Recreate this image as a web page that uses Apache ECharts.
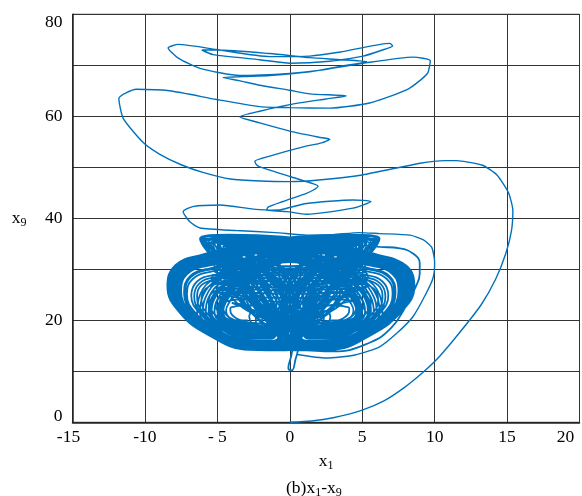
<!DOCTYPE html>
<html><head><meta charset="utf-8">
<script src="https://cdn.jsdelivr.net/npm/echarts@6/dist/echarts.min.js"></script>
<style>html,body{margin:0;padding:0;background:#fff}#c{width:582px;height:496px}</style>
</head><body><div id="c"></div>
<script>
// ---- axis ticks ----
const xTicks = [-15, -10, -5, 0, 5, 10, 15, 20];
const yTicks = [0, 20, 40, 60, 80];

// ---- transient trajectory (x1, x9) ----
const transient = [
 0,0, 1.5,0.25, 3,0.9, 5,2.4, 6.5,4.2, 7.9,6.8, 9.2,9.8, 10.3,12.8, 11.7,17.5, 13.2,23, 14.2,28, 14.9,33,
 15.3,37.5, 15.4,41.5, 15.1,45, 14.3,48.5, 13.3,50.4, 11.5,51.3, 10.7,51.3, 9,50.8, 5,48.5, 2,47.5, 0,47.2,
 -2,47.3, -4.1,47.7, -6,49, -7.5,50.5, -9,52.6, -10.1,54.8, -11.5,59.6, -11.8,63.5, -10.6,65.3, -8.3,65.0,
 -5.06,63.3, -2.07,61.9, 0,61.7, 2.76,61.6, 5.5,62.6, 8.2,65.4, 9.5,68.4, 9.7,70.9, 8.5,71.6, 5.06,70.4,
 2,69.0, 0,68.4, -3.45,68.0, -6.2,69.4, -7.7,71.4, -8.4,73.4, -7.7,74.1, -5.06,73.1, -1.38,71.7, 1.38,71.8,
 3.5,72.6, 6.9,74.3, 7.1,73.8, 6.4,73.0, 5.06,71.8, 2.76,70.8, 0,70.4, -2.07,71.1, -5.3,72.1, -6.07,73.0,
 -5.0,73.0, -1.38,72.3, 1.38,71.5, 3.5,71.1, 5.3,70.7, 3.5,69.8, 1.38,68.7, -1.38,68.0, -3.2,67.8, -4.6,67.6,
 -3.5,67.0, -2.07,66.1, 0,65.1, 1.38,64.4, 3.9,64.0, 2.5,63.4, 0,62.3, -2.07,61.0, -3.45,59.9, -2.07,58.7,
 0,57.1, 2.0,55.9, 2.76,55.5, 2.2,54.8, 0.92,54.0, -1.38,52.2, -2.41,51.2, -2.3,50.5, -2.07,50.1, 0,48.2,
 1.6,46.8, 1.95,46.3, 1.6,45.5, 1.15,44.9, -0.46,43.3, -1.5,42.2, -1.6,41.6, -0.6,41.7, 1.15,42.9, 4.37,43.6,
 5.6,43.3, 4.37,42.0, 1.15,40.8, -0.2,41.3, -2.5,41.8, -4.8,42.6, -6.7,42.3, -7.36,41.3, -6.9,39.3, -6.2,38.1,
 -3.7,37.6, -1,37.2, 1.2,36.7, 3,36.8, 4.8,37.2, 6.2,37.0, 8.3,36.7, 9.2,35.8, 9.8,34.3, 10.0,31.4, 9.9,28.4,
 9.4,25.2, 8.5,20.7, 7.4,17.5, 6.2,14.8, 4.5,13.2, 2.5,12.6, 0.5,13.3
];

// ---- attractor: loops around the left eye ----
const leftSmall = [
 -2.9,20.0, -3.3,20.0, -3.7,20.4, -4.0,21.1, -4.1,21.8, -4.1,22.4, -3.8,22.7, -3.3,22.9, -2.9,22.7, -2.7,21.8, -2.8,20.7,
 -2.6,19.3, -3.25,19.35, -3.9,20.05, -4.4,21.1, -4.6,22.4, -4.5,23.4, -4.05,23.9, -3.3,24.1, -2.55,23.75, -2.25,22.25, -2.35,20.5,
 -2.3,18.7, -3.2,18.7, -4.1,19.7, -4.8,21.2, -5.1,22.9, -4.9,24.3, -4.3,25.0, -3.3,25.4, -2.2,24.9, -1.8,22.75, -1.9,20.3,
 -2.0,18.0, -3.1,18.0, -4.3,19.3, -5.2,21.2, -5.6,23.5, -5.4,25.3, -4.6,26.2, -3.2,26.6, -1.9,26.0, -1.3,23.25, -1.5,20.1,
 -1.7,17.3, -3.1,17.4, -4.6,18.9, -5.7,21.3, -6.1,24.0, -5.8,26.2, -4.8,27.3, -3.2,27.9, -1.5,27.05, -0.9,23.75, -1.1,19.9,
 -1.5,16.8, -3.0,16.9, -4.7,18.6, -5.9,21.3, -6.4,24.4, -6.1,26.9, -5.0,28.1, -3.15,28.75, -1.3,27.8, -0.55,24.1, -0.8,19.8,
 -1.4,16.6, -3.0,16.7, -4.8,18.5, -6.05,21.3, -6.6,24.6, -6.25,27.2, -5.1,28.5, -3.15,29.1, -1.2,28.2, -0.4,24.25, -0.7,19.7,
 -1.3,16.4, -3.0,16.4, -4.85,18.4, -6.2,21.35, -6.8,24.8, -6.4,27.6, -5.2,28.9, -3.1,29.6, -1.05,28.6, -0.2,24.45, -0.5,19.6,
 -1.1,16.0, -2.95,16.05, -5.0,18.15, -6.5,21.4, -7.1,25.1, -6.7,28.1, -5.35,29.6, -3.1,30.4, -0.85,29.25, 0.05,24.75, -0.25,19.5,
 -1.0,15.8, -2.95,15.85, -5.05,18.05, -6.6,21.4, -7.2,25.3, -6.85,28.4, -5.45,30.0, -3.1,30.75, -0.75,29.6, 0.2,24.9, -0.1,19.45,
 -0.9,15.6, -2.9,15.7, -5.1,18.0, -6.7,21.4, -7.3,25.4, -6.9,28.6, -5.5,30.2, -3.1,31.0, -0.7,29.8, 0.3,25.0, -0.05,19.4,
 -0.8,15.4, -2.9,15.5, -5.2,17.8, -6.8,21.4, -7.5,25.6, -7.1,29.0, -5.6,30.7, -3.05,31.5, -0.55,30.25, 0.45,25.2, 0.1,19.3,
 -0.75,15.25, -2.9,15.3, -5.2,17.75, -6.95,21.45, -7.6,25.75, -7.2,29.2, -5.65,30.9, -3.05,31.75, -0.5,30.45, 0.55,25.3, 0.2,19.3
];
const leftFan = [
 -1.2,18.8, -3.4,19.6, -4.4,20.4, -4.6,21.8, -4.4,23.6, -3.8,26.0, -2.5,29.0, -0.6,31.4, 1.0,32.7, 2.0,32.4, 1.6,30.0, 1.2,28.0, 0.0,22.0, -0.6,19.6,
 -1.4,18.2, -3.4,19.1, -4.6,20.0, -5.0,21.8, -4.8,24.0, -4.1,26.6, -2.7,29.5, -0.5,32.4, 2.2,34.2, 4.0,34.0, 3.6,31.5, 2.8,28.0, 1.0,22.0, -0.5,19.2,
 -1.6,17.6, -3.4,18.6, -4.9,19.6, -5.4,21.7, -5.2,24.2, -4.4,27.0, -2.9,29.8, -0.6,32.2, 1.8,33.6, 3.0,33.3, 2.5,30.8, 1.8,28.0, 0.5,22.0, -0.6,18.8,
 -1.3,18.5, -3.4,19.3, -4.5,20.2, -4.8,21.8, -4.6,23.8, -3.9,26.3, -2.4,29.4, 0.0,32.6, 3.0,35.2, 5.2,35.0, 4.7,32.4, 3.8,28.0, 2.0,22.0, -0.3,19.0,
 -1.8,17.1, -3.4,18.2, -5.1,19.3, -5.8,21.6, -5.6,24.5, -4.7,27.5, -3.0,30.2, -1.0,32.0, 0.6,32.6, 1.5,32.2, 1.1,30.0, 0.6,28.0, -0.5,22.0, -1.0,18.4,
 -2.0,16.7, -3.4,17.7, -5.4,19.0, -6.2,21.5, -6.0,24.8, -5.0,28.0, -3.2,30.8, -0.8,33.0, 2.8,34.6, 4.6,34.5, 4.1,32.0, 3.4,28.0, 1.6,22.0, -0.2,18.0,
 -1.1,19.0, -3.4,19.8, -4.2,20.6, -4.4,21.9, -4.2,23.4, -3.6,25.8, -2.3,28.8, -0.3,31.6, 2.0,33.6, 3.5,33.5, 3.0,31.0, 2.0,28.0, 0.8,22.0, -0.4,19.8,
 -1.7,17.4, -3.4,18.4, -5.0,19.5, -5.6,21.6, -5.4,24.4, -4.5,27.2, -2.8,30.2, 0.0,33.4, 3.5,35.8, 5.8,35.7, 5.3,33.2, 4.4,28.0, 2.6,22.0, 0.0,18.6,
 -1.5,17.9, -3.4,18.9, -4.8,19.8, -5.2,21.7, -5.0,24.1, -4.2,26.8, -2.8,29.6, -0.8,31.9, 1.3,33.1, 2.5,32.9, 2.0,30.5, 1.0,28.0, -0.2,22.0, -0.8,19.0,
 -1.9,16.9, -3.4,17.9, -5.3,19.1, -6.0,21.5, -5.8,24.6, -4.9,27.8, -3.1,30.6, -0.6,33.2, 2.8,35.3, 5.0,35.3, 4.5,32.6, 2.6,28.0, 1.2,22.0, -0.3,18.2,
 -1.3,18.4, -3.4,19.2, -4.6,20.1, -4.9,21.8, -4.7,23.9, -4.0,26.5, -2.5,29.5, 0.2,32.9, 3.6,35.9, 6.0,36.1, 5.5,33.4, 4.8,28.0, 3.0,22.0, 0.0,19.0,
 -2.1,16.5, -3.4,17.4, -5.5,18.8, -6.4,21.4, -6.2,25.0, -5.2,28.3, -3.4,31.0, -1.0,33.0, 1.8,34.0, 3.2,33.7, 2.8,31.2, 2.4,28.0, 1.4,22.0, -0.4,17.8,
 -1.6,17.5, -3.4,18.5, -4.95,19.55, -5.5,21.65, -5.3,24.3, -4.45,27.1, -2.9,30.0, -0.4,32.7, 2.4,34.4, 4.3,34.3, 3.8,31.8, 3.0,28.0, 2.2,22.0, -0.2,18.7,
 -1.25,18.6, -3.4,19.4, -4.5,20.3, -4.7,21.8, -4.5,23.7, -3.85,26.2, -2.6,29.0, -0.9,31.4, 0.4,32.3, 1.0,32.0, 0.7,30.0, 0.3,28.0, -0.8,22.0, -0.9,19.4
];
const leftBigA = [
 -0.7,15.1, -2.9,15.2, -5.25,17.65, -7.0,21.45, -7.7,25.85, -7.3,29.4, -5.7,31.3, -3.0,32.8, 0,33.6, 1.8,33.6, 2.6,32.8, 2.3,30.5, 1.5,26, 0.8,21, 0.1,17,
 -0.6,14.9, -2.85,15.0, -5.3,17.55, -7.1,21.45, -7.9,26.0, -7.4,29.65, -5.75,31.6, -3.0,33.2, 0.3,34.1, 2.6,34.3, 3.6,33.6, 3.3,31.2, 2.3,27, 1.2,22, 0.2,17,
 -0.5,14.7, -2.85,14.8, -5.35,17.4, -7.25,21.5, -8.0,26.2, -7.55,29.9, -5.85,31.9, -3.0,33.6, 0.5,34.7, 3.2,35.0, 4.6,34.4, 4.2,31.8, 3.0,27.5, 1.6,22.5, 0.3,16.8,
 -0.4,14.5, -2.8,14.6, -5.45,17.3, -7.4,21.5, -8.15,26.35, -7.7,30.2, -5.9,32.2, -3.0,34.0, 0.5,35.2, 3.6,35.6, 5.3,35.0, 4.9,32.4, 3.5,28, 1.9,22.8, 0.4,16.6
];
const leftBigB = [
 -0.3,14.3, -2.8,14.4, -5.5,17.2, -7.5,21.5, -8.3,26.5, -7.8,30.5, -6.0,32.5, -3.0,34.4, 0.5,35.8, 4.0,36.2, 5.9,35.5, 5.4,32.8, 3.8,28.2, 2.1,23, 0.5,16.5,
 -0.2,14.1, -2.8,14.2, -5.6,17.1, -7.6,21.5, -8.45,26.7, -7.9,30.8, -6.1,32.85, -3.0,34.9, 0.5,36.4, 4.2,36.8, 6.2,36.0, 5.6,33.2, 4.0,28.5, 2.2,23.2, 0.5,16.3,
 -0.35,14.4, -2.8,14.5, -5.5,17.25, -7.45,21.5, -8.2,26.4, -7.75,30.3, -5.95,32.3, -3.0,34.0, 0.2,34.9, 2.8,35.0, 4.0,34.2, 3.6,31.5, 2.5,27, 1.4,22.2, 0.3,16.9,
 -0.55,14.8, -2.85,14.9, -5.3,17.5, -7.2,21.5, -7.95,26.1, -7.5,29.8, -5.8,31.8, -3.0,33.8, 0.5,35.5, 3.8,36.0, 5.6,35.4, 5.1,32.6, 3.6,28.1, 2.0,22.9, 0.4,16.6
];
const leftBigC = [
 -0.73,15.24, -2.88,15.32, -5.21,17.73, -6.93,21.43, -7.61,25.73, -7.18,29.17, -5.64,30.89, -3,31.2, -1,32.3, 0.3,32.6, 1.5,32.1, 1.1,30.2, 1.0,28.5, 0.5,23, 0.3,16.8,
 -0.7,15.17, -2.88,15.26, -5.23,17.69, -6.97,21.44, -7.66,25.79, -7.23,29.27, -5.66,31.0, -3,33.6, 0.5,34.9, 3.0,35.3, 4.8,34.7, 4.3,32.4, 2.6,28.5, 1.0,23, 0.4,16.8,
 -0.64,15.04, -2.87,15.13, -5.27,17.62, -7.05,21.45, -7.76,25.9, -7.32,29.46, -5.71,31.24, -3,32.2, -0.3,33.5, 1.6,33.9, 3.0,33.3, 2.6,31.0, 2.2,28.5, 1.2,23, 0.4,16.8,
 -0.61,14.97, -2.86,15.06, -5.29,17.58, -7.09,21.45, -7.81,25.95, -7.36,29.55, -5.74,31.35, -3,34.0, 0.5,35.3, 3.7,35.7, 5.5,35.1, 5.0,32.8, 4.2,28.5, 2.6,23, 0.6,16.8,
 -0.55,14.84, -2.85,14.93, -5.33,17.5, -7.17,21.46, -7.91,26.06, -7.45,29.74, -5.79,31.58, -3,31.6, -0.8,32.9, 1.0,33.3, 2.2,32.7, 1.8,30.4, 1.0,28.5, -0.2,23, 0.2,16.8,
 -0.52,14.77, -2.84,14.86, -5.35,17.47, -7.21,21.47, -7.96,26.12, -7.49,29.84, -5.82,31.7, -3,34.5, 0.5,35.8, 4.2,36.2, 6.0,35.6, 5.5,33.3, 3.2,28.5, 1.4,23, 0.5,16.8,
 -0.46,14.64, -2.83,14.73, -5.4,17.39, -7.3,21.48, -8.06,26.23, -7.58,30.03, -5.87,31.93, -3,32.9, 0,34.2, 2.0,34.6, 3.8,34.0, 3.3,31.7, 3.0,28.5, 2.2,23, 0.6,16.8,
 -0.42,14.57, -2.82,14.66, -5.42,17.35, -7.34,21.48, -8.1,26.28, -7.62,30.12, -5.9,32.04, -3,33.4, 0.5,34.7, 3.2,35.1, 5.0,34.5, 4.5,32.2, 4.0,28.5, 3.0,23, 0.8,16.8,
 -0.36,14.43, -2.81,14.53, -5.46,17.28, -7.42,21.49, -8.2,26.39, -7.71,30.31, -5.95,32.27, -3,32.0, -0.5,33.3, 1.2,33.7, 2.8,33.1, 2.3,30.8, 1.6,28.5, 0.4,23, 0.2,16.8,
 -0.33,14.37, -2.81,14.47, -5.48,17.24, -7.46,21.5, -8.25,26.45, -7.76,30.41, -5.97,32.39, -3,34.6, 0.5,35.9, 4.0,36.3, 5.8,35.7, 5.3,33.4, 4.6,28.5, 3.2,23, 0.8,16.8,
 -0.27,14.23, -2.79,14.33, -5.52,17.16, -7.54,21.5, -8.35,26.56, -7.84,30.6, -6.03,32.62, -3,33.2, 0.3,34.5, 2.6,34.9, 4.4,34.3, 3.9,32.0, 2.0,28.5, 0.6,23, 0.3,16.8,
 -0.24,14.17, -2.79,14.27, -5.54,17.12, -7.58,21.51, -8.4,26.61, -7.89,30.69, -6.05,32.73, -3,34.9, 0.5,36.2, 4.3,36.6, 6.1,36.0, 5.6,33.7, 3.6,28.5, 2.0,23, 0.5,16.8
];
const centerDip = [0.1,13.0, -0.1,10.6, 0.15,10.2, 0.4,12.4, 0.6,14.8];
// loops that climb straight through the middle of the butterfly
const centerLoops = [
 0,15.5, 0.6,20, 1.2,25, 1.4,29, 0.6,32, -0.8,33.2, -2.2,32.6, -2.4,30, -1.6,26, -0.7,21, 0,16,
 -0.8,21, -1.8,26, -2.6,30, -2.0,33, 0,34, 2.2,33.4, 2.8,30.5, 2.0,26.5, 1.0,21.5, 0,16.2,
 0.2,15.8, 1.2,20.5, 2.6,25.5, 3.4,29.5, 2.8,32.5, 1,33.8, -1,34.4, -3.5,34.2, -4.2,32, -3.4,28.5, -2.0,24, -0.7,19.5, 0,16,
 -1.2,20.5, -2.6,25.5, -3.4,29.5, -2.8,32.5, -1,33.8, 1,34.4, 3.5,34.2, 4.2,32, 3.4,28.5, 2.0,24, 0.7,19.5, 0,16,
 0.4,19, 0.6,23, 0.2,27, -0.6,30.5, -1.2,32.8, 0,33.8, 1.2,32.8, 0.6,30.5, -0.2,27, -0.6,23, -0.4,19, 0,15.6,
 1.8,19.5, 3.4,24, 4.4,28.5, 4.0,32, 2,33.8, -0.5,33.2, -1.5,30, -1.0,26, -0.4,21, 0,16,
 -1.8,19.5, -3.4,24, -4.4,28.5, -4.0,32, -2,33.8, 0.5,33.2, 1.5,30, 1.0,26, 0.4,21, 0,16,
 -0.3,20, 0.3,24.5, 1.6,28.5, 2.2,31.2, 1.5,32.8, -0.5,32.6, -2,31, -2.6,28, -2.2,24, -1,19.8, 0,15.8,
 0.3,20, -0.3,24.5, -1.6,28.5, -2.2,31.2, -1.5,32.8, 0.5,32.6, 2,31, 2.6,28, 2.2,24, 1,19.8, 0,15.8
];
// strands sweeping sideways across the upper middle
const crossStrands = [
 -4.6,31.8, -2,31.0, 0,30.6, 2,31.0, 4.6,31.6, 4.9,30.8, 2.5,30.0, 0,29.8, -2.5,30.0, -5.0,30.6,
 -5.2,29.6, -2.5,29.0, 0,28.8, 2.5,29.0, 5.2,29.4, 5.4,28.5, 2.5,27.8, 0,27.6, -2.5,27.8, -5.4,28.4,
 -5.3,27.4, -2.5,26.6, 0,26.4, 2.5,26.6, 5.3,27.2, 5.2,26.2, 2.5,25.4, 0,25.2, -2.5,25.4, -5.0,26.0,
 -4.6,25.0, -2.2,24.0, 0,23.6, 2.2,24.0, 4.6,24.8, 4.0,23.6, 1.8,22.6, 0,22.2, -1.8,22.6, -4.0,23.4,
 -3.2,22.6, -1.4,21.2, 0,20.6, 1.4,21.2, 3.0,22.2, 2.2,20.4, 0.9,18.8, 0,18.2, -0.9,18.8, -2.2,20.2,
 -4.4,32.4, -2,31.9, 0,31.6, 2,31.9, 4.4,32.3, 4.7,31.4, 2.2,30.6, 0,30.2, -2.2,30.5, -4.8,31.1,
 -5.1,30.1, -2.4,29.5, 0,29.3, 2.4,29.5, 5.1,29.9, 5.3,29.0, 2.4,28.3, 0,28.2, -2.4,28.3, -5.3,28.9,
 -5.35,27.9, -2.4,27.2, 0,27.0, 2.4,27.2, 5.3,27.7, 5.25,26.7, 2.4,26.0, 0,25.8, -2.4,26.0, -5.1,26.5,
 -4.8,25.5, -2.3,24.6, 0,24.4, 2.3,24.6, 4.7,25.3, 3.8,26.6, 1.6,30.2, 0.6,31.3, 0,31.4, -0.6,31.3,
 -1.6,30.4, -1.2,31.6, -0.4,32.1, 0.4,32.1, 1.2,31.6, 1.6,30.4
];

// ---- attractor: loops around the right eye ----
const rightSmall = [
 2.9,20.0, 3.3,20.0, 3.7,20.4, 4.0,21.1, 4.1,21.8, 4.1,22.4, 3.8,22.7, 3.3,22.9, 2.9,22.7, 2.7,21.8, 2.8,20.7,
 2.6,19.3, 3.25,19.35, 3.9,20.05, 4.4,21.1, 4.6,22.4, 4.5,23.4, 4.05,23.9, 3.3,24.1, 2.55,23.75, 2.25,22.25, 2.35,20.5,
 2.3,18.7, 3.2,18.7, 4.1,19.7, 4.8,21.2, 5.1,22.9, 4.9,24.3, 4.3,25.0, 3.3,25.4, 2.2,24.9, 1.8,22.75, 1.9,20.3,
 2.0,18.0, 3.1,18.0, 4.3,19.3, 5.2,21.2, 5.6,23.5, 5.4,25.3, 4.6,26.2, 3.2,26.6, 1.9,26.0, 1.3,23.25, 1.5,20.1,
 1.7,17.3, 3.1,17.4, 4.6,18.9, 5.7,21.3, 6.1,24.0, 5.8,26.2, 4.8,27.3, 3.2,27.9, 1.5,27.05, 0.9,23.75, 1.1,19.9,
 1.5,16.8, 3.0,16.9, 4.7,18.6, 5.9,21.3, 6.4,24.4, 6.1,26.9, 5.0,28.1, 3.15,28.75, 1.3,27.8, 0.55,24.1, 0.8,19.8,
 1.4,16.6, 3.0,16.7, 4.8,18.5, 6.05,21.3, 6.6,24.6, 6.25,27.2, 5.1,28.5, 3.15,29.1, 1.2,28.2, 0.4,24.25, 0.7,19.7,
 1.3,16.4, 3.0,16.4, 4.85,18.4, 6.2,21.35, 6.8,24.8, 6.4,27.6, 5.2,28.9, 3.1,29.6, 1.05,28.6, 0.2,24.45, 0.5,19.6,
 1.1,16.0, 2.95,16.05, 5.0,18.15, 6.5,21.4, 7.1,25.1, 6.7,28.1, 5.35,29.6, 3.1,30.4, 0.85,29.25, -0.05,24.75, 0.25,19.5,
 1.0,15.8, 2.95,15.85, 5.05,18.05, 6.6,21.4, 7.2,25.3, 6.85,28.4, 5.45,30.0, 3.1,30.75, 0.75,29.6, -0.2,24.9, 0.1,19.45,
 0.9,15.6, 2.9,15.7, 5.1,18.0, 6.7,21.4, 7.3,25.4, 6.9,28.6, 5.5,30.2, 3.1,31.0, 0.7,29.8, -0.3,25.0, 0.05,19.4,
 0.8,15.4, 2.9,15.5, 5.2,17.8, 6.8,21.4, 7.5,25.6, 7.1,29.0, 5.6,30.7, 3.05,31.5, 0.55,30.25, -0.45,25.2, -0.1,19.3,
 0.75,15.25, 2.9,15.3, 5.2,17.75, 6.95,21.45, 7.6,25.75, 7.2,29.2, 5.65,30.9, 3.05,31.75, 0.5,30.45, -0.55,25.3, -0.2,19.3
];
const rightFan = [
 1.2,18.8, 3.4,19.6, 4.4,20.4, 4.6,21.8, 4.4,23.6, 3.8,26.0, 2.5,29.0, 0.6,31.4, -1.0,32.7, -2.0,32.4, -1.6,30.0, -1.2,28.0, 0.0,22.0, 0.6,19.6,
 1.4,18.2, 3.4,19.1, 4.6,20.0, 5.0,21.8, 4.8,24.0, 4.1,26.6, 2.7,29.5, 0.5,32.4, -2.2,34.2, -4.0,34.0, -3.6,31.5, -2.8,28.0, -1.0,22.0, 0.5,19.2,
 1.6,17.6, 3.4,18.6, 4.9,19.6, 5.4,21.7, 5.2,24.2, 4.4,27.0, 2.9,29.8, 0.6,32.2, -1.8,33.6, -3.0,33.3, -2.5,30.8, -1.8,28.0, -0.5,22.0, 0.6,18.8,
 1.3,18.5, 3.4,19.3, 4.5,20.2, 4.8,21.8, 4.6,23.8, 3.9,26.3, 2.4,29.4, 0.0,32.6, -3.0,35.2, -5.2,35.0, -4.7,32.4, -3.8,28.0, -2.0,22.0, 0.3,19.0,
 1.8,17.1, 3.4,18.2, 5.1,19.3, 5.8,21.6, 5.6,24.5, 4.7,27.5, 3.0,30.2, 1.0,32.0, -0.6,32.6, -1.5,32.2, -1.1,30.0, -0.6,28.0, 0.5,22.0, 1.0,18.4,
 2.0,16.7, 3.4,17.7, 5.4,19.0, 6.2,21.5, 6.0,24.8, 5.0,28.0, 3.2,30.8, 0.8,33.0, -2.8,34.6, -4.6,34.5, -4.1,32.0, -3.4,28.0, -1.6,22.0, 0.2,18.0,
 1.1,19.0, 3.4,19.8, 4.2,20.6, 4.4,21.9, 4.2,23.4, 3.6,25.8, 2.3,28.8, 0.3,31.6, -2.0,33.6, -3.5,33.5, -3.0,31.0, -2.0,28.0, -0.8,22.0, 0.4,19.8,
 1.7,17.4, 3.4,18.4, 5.0,19.5, 5.6,21.6, 5.4,24.4, 4.5,27.2, 2.8,30.2, 0.0,33.4, -3.5,35.8, -5.8,35.7, -5.3,33.2, -4.4,28.0, -2.6,22.0, 0.0,18.6,
 1.5,17.9, 3.4,18.9, 4.8,19.8, 5.2,21.7, 5.0,24.1, 4.2,26.8, 2.8,29.6, 0.8,31.9, -1.3,33.1, -2.5,32.9, -2.0,30.5, -1.0,28.0, 0.2,22.0, 0.8,19.0,
 1.9,16.9, 3.4,17.9, 5.3,19.1, 6.0,21.5, 5.8,24.6, 4.9,27.8, 3.1,30.6, 0.6,33.2, -2.8,35.3, -5.0,35.3, -4.5,32.6, -2.6,28.0, -1.2,22.0, 0.3,18.2,
 1.3,18.4, 3.4,19.2, 4.6,20.1, 4.9,21.8, 4.7,23.9, 4.0,26.5, 2.5,29.5, -0.2,32.9, -3.6,35.9, -6.0,36.1, -5.5,33.4, -4.8,28.0, -3.0,22.0, 0.0,19.0,
 2.1,16.5, 3.4,17.4, 5.5,18.8, 6.4,21.4, 6.2,25.0, 5.2,28.3, 3.4,31.0, 1.0,33.0, -1.8,34.0, -3.2,33.7, -2.8,31.2, -2.4,28.0, -1.4,22.0, 0.4,17.8,
 1.6,17.5, 3.4,18.5, 4.95,19.55, 5.5,21.65, 5.3,24.3, 4.45,27.1, 2.9,30.0, 0.4,32.7, -2.4,34.4, -4.3,34.3, -3.8,31.8, -3.0,28.0, -2.2,22.0, 0.2,18.7,
 1.25,18.6, 3.4,19.4, 4.5,20.3, 4.7,21.8, 4.5,23.7, 3.85,26.2, 2.6,29.0, 0.9,31.4, -0.4,32.3, -1.0,32.0, -0.7,30.0, -0.3,28.0, 0.8,22.0, 0.9,19.4
];
const rightBigA = [
 0.7,15.1, 2.9,15.2, 5.25,17.65, 7.0,21.45, 7.7,25.85, 7.3,29.4, 5.7,31.3, 3.0,32.8, 0,33.6, -1.8,33.6, -2.6,32.8, -2.3,30.5, -1.5,26, -0.8,21, -0.1,17,
 0.6,14.9, 2.85,15.0, 5.3,17.55, 7.1,21.45, 7.9,26.0, 7.4,29.65, 5.75,31.6, 3.0,33.2, -0.3,34.1, -2.6,34.3, -3.6,33.6, -3.3,31.2, -2.3,27, -1.2,22, -0.2,17,
 0.5,14.7, 2.85,14.8, 5.35,17.4, 7.25,21.5, 8.0,26.2, 7.55,29.9, 5.85,31.9, 3.0,33.6, -0.5,34.7, -3.2,35.0, -4.6,34.4, -4.2,31.8, -3.0,27.5, -1.6,22.5, -0.3,16.8,
 0.4,14.5, 2.8,14.6, 5.45,17.3, 7.4,21.5, 8.15,26.35, 7.7,30.2, 5.9,32.2, 3.0,34.0, -0.5,35.2, -3.6,35.6, -5.3,35.0, -4.9,32.4, -3.5,28, -1.9,22.8, -0.4,16.6
];
const rightBigB = [
 0.3,14.3, 2.8,14.4, 5.5,17.2, 7.5,21.5, 8.3,26.5, 7.8,30.5, 6.0,32.5, 3.0,34.4, -0.5,35.8, -4.0,36.2, -5.9,35.5, -5.4,32.8, -3.8,28.2, -2.1,23, -0.5,16.5,
 0.2,14.1, 2.8,14.2, 5.6,17.1, 7.6,21.5, 8.45,26.7, 7.9,30.8, 6.1,32.85, 3.0,34.9, -0.5,36.4, -4.2,36.8, -6.2,36.0, -5.6,33.2, -4.0,28.5, -2.2,23.2, -0.5,16.3,
 0.35,14.4, 2.8,14.5, 5.5,17.25, 7.45,21.5, 8.2,26.4, 7.75,30.3, 5.95,32.3, 3.0,34.0, -0.2,34.9, -2.8,35.0, -4.0,34.2, -3.6,31.5, -2.5,27, -1.4,22.2, -0.3,16.9,
 0.55,14.8, 2.85,14.9, 5.3,17.5, 7.2,21.5, 7.95,26.1, 7.5,29.8, 5.8,31.8, 3.0,33.8, -0.5,35.5, -3.8,36.0, -5.6,35.4, -5.1,32.6, -3.6,28.1, -2.0,22.9, -0.4,16.6
];
const rightBigC = [
 0.73,15.24, 2.88,15.32, 5.21,17.73, 6.93,21.43, 7.61,25.73, 7.18,29.17, 5.64,30.89, 3,31.2, 1,32.3, -0.3,32.6, -1.5,32.1, -1.1,30.2, -1.0,28.5, -0.5,23, -0.3,16.8,
 0.7,15.17, 2.88,15.26, 5.23,17.69, 6.97,21.44, 7.7,25.79, 7.25,29.27, 5.66,31.0, 3,33.6, -0.5,34.9, -3.0,35.3, -4.8,34.7, -4.3,32.4, -2.6,28.5, -1.0,23, -0.4,16.8,
 0.64,15.04, 2.87,15.13, 5.27,17.62, 7.05,21.45, 7.8,25.9, 7.35,29.46, 5.71,31.24, 3,32.2, 0.3,33.5, -1.6,33.9, -3.0,33.3, -2.6,31.0, -2.2,28.5, -1.2,23, -0.4,16.8,
 0.61,14.97, 2.86,15.06, 5.29,17.58, 7.12,21.45, 7.88,25.95, 7.4,29.55, 5.74,31.35, 3,34.0, -0.5,35.3, -3.7,35.7, -5.5,35.1, -5.0,32.8, -4.2,28.5, -2.6,23, -0.6,16.8,
 0.55,14.84, 2.85,14.93, 5.33,17.5, 7.2,21.46, 7.98,26.06, 7.5,29.74, 5.79,31.58, 3,31.6, 0.8,32.9, -1.0,33.3, -2.2,32.7, -1.8,30.4, -1.0,28.5, 0.2,23, -0.2,16.8,
 0.52,14.77, 2.84,14.86, 5.35,17.47, 7.25,21.47, 8.05,26.12, 7.55,29.84, 5.82,31.7, 3,34.5, -0.5,35.8, -4.2,36.2, -6.0,35.6, -5.5,33.3, -3.2,28.5, -1.4,23, -0.5,16.8,
 0.46,14.64, 2.83,14.73, 5.4,17.39, 7.35,21.48, 8.15,26.23, 7.65,30.03, 5.87,31.93, 3,32.9, 0,34.2, -2.0,34.6, -3.8,34.0, -3.3,31.7, -3.0,28.5, -2.2,23, -0.6,16.8,
 0.42,14.57, 2.82,14.66, 5.42,17.35, 7.4,21.48, 8.25,26.28, 7.75,30.12, 5.9,32.04, 3,33.4, -0.5,34.7, -3.2,35.1, -5.0,34.5, -4.5,32.2, -4.0,28.5, -3.0,23, -0.8,16.8,
 0.36,14.43, 2.81,14.53, 5.46,17.28, 7.48,21.49, 8.35,26.39, 7.85,30.31, 5.95,32.27, 3,32.0, 0.5,33.3, -1.2,33.7, -2.8,33.1, -2.3,30.8, -1.6,28.5, -0.4,23, -0.2,16.8,
 0.33,14.37, 2.81,14.47, 5.48,17.24, 7.55,21.5, 8.45,26.45, 7.95,30.41, 5.97,32.39, 3,34.6, -0.5,35.9, -4.0,36.3, -5.8,35.7, -5.3,33.4, -4.6,28.5, -3.2,23, -0.8,16.8,
 0.27,14.23, 2.79,14.33, 5.52,17.16, 7.6,21.5, 8.55,26.56, 8.0,30.6, 6.03,32.62, 3,33.2, -0.3,34.5, -2.6,34.9, -4.4,34.3, -3.9,32.0, -2.0,28.5, -0.6,23, -0.3,16.8,
 0.24,14.17, 2.79,14.27, 5.54,17.12, 7.65,21.51, 8.6,26.61, 8.05,30.69, 6.05,32.73, 3,34.9, -0.5,36.2, -4.3,36.6, -6.1,36.0, -5.6,33.7, -3.6,28.5, -2.0,23, -0.5,16.8
];
const ringNine = [
 -5.5,34.8, -3,35.4, 0,35.6, 3,35.2, 5,34.7, 6.2,34.4, 7.6,34.1, 8.5,33.1, 8.97,31.2, 8.97,29.2, 8.7,26.6,
 8.0,22.7, 7.0,18.5, 5.5,15.6, 3.0,13.9, 0.5,14.3
];

const pairs = a => { const r = []; for (let i = 0; i < a.length; i += 2) r.push([a[i], a[i + 1]]); return r; };
const attractor = [].concat(leftSmall, leftFan, leftBigA, centerDip, centerLoops, rightSmall, rightFan, rightBigA,
                            crossStrands, leftBigB, leftBigC, rightBigB, rightBigC, ringNine);

const FONT = 'Liberation Serif';
const BLUE = '#0072BD';
const richText = {
  a: { fontFamily: FONT, fontSize: 17.5, color: '#000', fontWeight: 'normal' },
  s: { fontFamily: FONT, fontSize: 12, color: '#000', fontWeight: 'normal', padding: [9, 0, 0, 0] }
};
const chart = echarts.init(document.getElementById('c'), null, { renderer: 'canvas' });
chart.setOption({
  animation: false,
  backgroundColor: '#fff',
  title: {
    text: '{a|(b)x}{s|1}{a|-x}{s|9}',
    left: 281, top: 473,
    textStyle: { fontWeight: 'normal', rich: richText }
  },
  grid: { left: 72.5, top: 14.3, right: 2.5, bottom: 73.7, show: true, borderColor: '#262626', borderWidth: 1 },
  xAxis: {
    type: 'value', min: xTicks[0], max: xTicks[xTicks.length - 1], interval: 5,
    name: '{a|x}{s|1}', nameLocation: 'middle', nameGap: 29,
    nameTextStyle: { rich: richText },
    axisLine: { show: true, onZero: false, lineStyle: { color: '#222', width: 1.5 } },
    axisTick: { show: false },
    splitLine: { show: true, lineStyle: { color: '#333', width: 1 } },
    axisLabel: {
      fontFamily: FONT, fontSize: 17.5, color: '#000', margin: 6,
      formatter: v => v === 20 ? '{r|20}' : v === -15 ? '{l|-15}' : v === -5 ? '- 5' : String(v),
      rich: {
        r: { fontFamily: FONT, fontSize: 17.5, color: '#000', padding: [0, 28, 0, 0] },
        l: { fontFamily: FONT, fontSize: 17.5, color: '#000', padding: [0, 8, 0, 0] }
      }
    }
  },
  yAxis: {
    type: 'value', min: yTicks[0], max: yTicks[yTicks.length - 1], interval: 10,
    name: '{a|x}{s|9}', nameLocation: 'middle', nameRotate: 0, nameGap: 46,
    nameTextStyle: { rich: richText },
    axisLine: { show: true, onZero: false, lineStyle: { color: '#222', width: 1.5 } },
    axisTick: { show: false },
    splitLine: { show: true, lineStyle: { color: '#333', width: 1 } },
    axisLabel: {
      fontFamily: FONT, fontSize: 17.5, color: '#000', margin: 10,
      formatter: v => yTicks.indexOf(v) < 0 ? '' : v === 80 ? '{t|80}' : v === 0 ? '{b|0}' : String(v),
      rich: {
        t: { fontFamily: FONT, fontSize: 17.5, color: '#000', padding: [16, 0, 0, 0] },
        b: { fontFamily: FONT, fontSize: 17.5, color: '#000', padding: [0, 0, 12, 0] }
      }
    }
  },
  series: [
    { type: 'line', data: pairs(transient), showSymbol: false, smooth: 0.2,
      lineStyle: { color: BLUE, width: 1.4 }, itemStyle: { color: BLUE } },
    { type: 'line', data: pairs(attractor), showSymbol: false, smooth: 0.45,
      lineStyle: { color: BLUE, width: 1.8 }, itemStyle: { color: BLUE } }
  ]
});
</script></body></html>
